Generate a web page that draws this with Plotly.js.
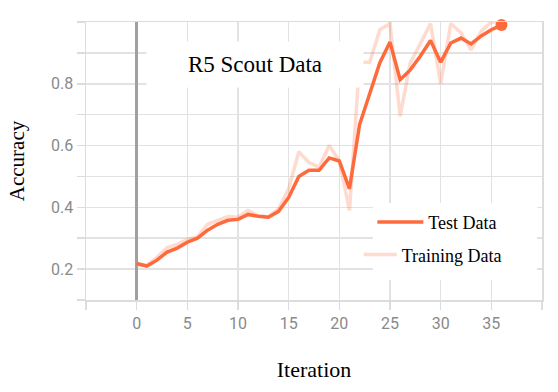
<!DOCTYPE html>
<html>
<head>
<meta charset="utf-8">
<script src="https://cdn.plot.ly/plotly-3.0.1.min.js"></script>
<style>html,body{margin:0;padding:0;background:#fff;}#chart{width:558px;height:392px;}</style>
</head>
<body>
<div id="chart"></div>
<script>
const iterations = [0,1,2,3,4,5,6,7,8,9,10,11,12,13,14,15,16,17,18,19,20,21,22,23,24,25,26,27,28,29,30,31,32,33,34,35,36];
const testAccuracy = [0.218,0.210,0.229,0.255,0.268,0.287,0.300,0.326,0.345,0.358,0.361,0.377,0.371,0.368,0.387,0.432,0.500,0.520,0.520,0.560,0.550,0.460,0.668,0.765,0.868,0.935,0.813,0.845,0.890,0.940,0.870,0.932,0.948,0.929,0.955,0.975,0.990];
const trainAccuracy = [0.215,0.212,0.238,0.270,0.280,0.296,0.305,0.345,0.358,0.370,0.368,0.390,0.372,0.370,0.395,0.460,0.580,0.545,0.530,0.600,0.550,0.390,0.870,0.870,0.975,0.995,0.695,0.868,0.930,0.995,0.800,0.995,0.965,0.910,0.970,1.000,1.000];
const xTickVals = [-5,0,5,10,15,20,25,30,35,40];
const xTickText = ['','0','5','10','15','20','25','30','35',''];
const yTickVals = [0.1,0.2,0.3,0.4,0.5,0.6,0.7,0.8,0.9,1.0];
const yTickText = ['','0.2','','0.4','','0.6','','0.8','',''];
const chartTitle = 'R5 Scout Data';
const seriesNames = ['Test Data','Training Data'];

const lastIdx = iterations.length - 1;
const traces = [
  {x: iterations, y: trainAccuracy, type: 'scatter', mode: 'lines', name: seriesNames[1],
   line: {color: 'rgba(255,112,67,0.26)', width: 3.5}, legend: 'legend2'},
  {x: iterations, y: testAccuracy, type: 'scatter', mode: 'lines', name: seriesNames[0],
   line: {color: '#ff6a3d', width: 3.5}, legend: 'legend'},
  {x: [iterations[lastIdx]], y: [testAccuracy[lastIdx]], type: 'scatter', mode: 'markers',
   marker: {color: '#ff6a3d', size: 12}, showlegend: false, cliponaxis: false}
];

const serif = 'Liberation Serif, Times New Roman, serif';
const layout = {
  width: 558, height: 392,
  margin: {l: 86, r: 16, t: 22, b: 92},
  paper_bgcolor: '#fff', plot_bgcolor: '#fff',
  showlegend: true,
  xaxis: {
    range: [-5, 40], tickmode: 'array', tickvals: xTickVals, ticktext: xTickText,
    showgrid: true, gridcolor: '#e2e2e2', gridwidth: 1.5,
    zeroline: true, zerolinecolor: '#a0a0a0', zerolinewidth: 2.5,
    showline: true, linecolor: '#dcdcdc', linewidth: 1.5, mirror: true,
    ticks: 'outside', ticklen: 8, tickcolor: '#dcdcdc', tickwidth: 1.5,
    tickfont: {family: 'Roboto, sans-serif', size: 16, color: '#8a8a8a'},
    title: {text: 'Iteration', font: {family: serif, size: 22, color: '#000'}, standoff: 30},
    automargin: false
  },
  yaxis: {
    range: [0.1, 1.0], tickmode: 'array', tickvals: yTickVals, ticktext: yTickText,
    showgrid: true, gridcolor: '#e2e2e2', gridwidth: 1.5, zeroline: false,
    showline: true, linecolor: '#dcdcdc', linewidth: 1.5, mirror: true,
    ticks: 'outside', ticklen: 8, tickcolor: '#dcdcdc', tickwidth: 1.5,
    tickfont: {family: 'Roboto, sans-serif', size: 16, color: '#8a8a8a'},
    title: {text: 'Accuracy', font: {family: serif, size: 21, color: '#000'}, standoff: 20},
    automargin: false
  },
  legend: {x: 0.628, y: 0.346, xanchor: 'left', yanchor: 'top', bgcolor: 'rgba(0,0,0,0)',
    itemwidth: 46, font: {family: serif, size: 18, color: '#000'}},
  legend2: {x: 0.598, y: 0.229, xanchor: 'left', yanchor: 'top', bgcolor: 'rgba(0,0,0,0)',
    itemwidth: 33, font: {family: serif, size: 18, color: '#000'}},
  shapes: [
    {type: 'rect', xref: 'paper', yref: 'paper', x0: 0.629, x1: 0.989, y0: 0.072, y1: 0.349,
     fillcolor: '#fff', line: {width: 0}, layer: 'above'}
  ],
  annotations: [
    {text: chartTitle, xref: 'paper', yref: 'paper', x: 0.371, y: 0.848, xanchor: 'center', yanchor: 'middle',
     showarrow: false, bgcolor: '#fff', width: 214, height: 43,
     font: {family: serif, size: 23, color: '#000'}}
  ]
};
Plotly.newPlot('chart', traces, layout, {displayModeBar: false, staticPlot: true});
</script>
</body>
</html>
